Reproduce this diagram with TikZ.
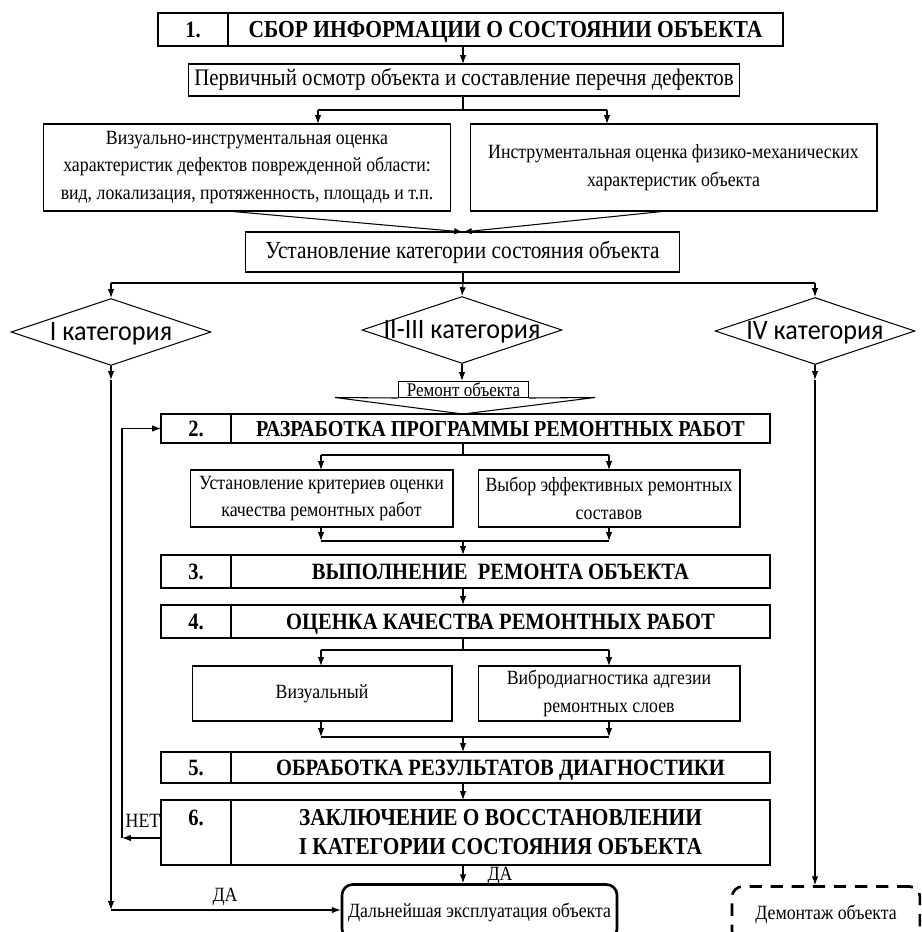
\documentclass[tikz,border=0pt]{standalone}
\usepackage{fontspec}
\setmainfont[FakeStretch=0.88]{Liberation Serif}
\newfontfamily\catfont[FakeStretch=0.93]{Carlito}
\usetikzlibrary{arrows.meta,positioning,shapes.geometric}

\begin{document}
\begin{tikzpicture}[x=0.02cm,y=-0.02cm,
    box/.style={draw,line width=0.6pt,align=center,inner sep=2pt,outer sep=0pt,
        font=\fontsize{11.5}{15.8}\selectfont},
    tallcell/.style={draw,line width=0.7pt,outer sep=0pt,align=center,
        font=\bfseries\fontsize{13.3}{16.5}\selectfont},
    numcell/.style={tallcell,minimum width=1.4cm,text height=9.2pt,text depth=0pt},
    headcell/.style={tallcell,text height=9.2pt,text depth=0pt},
    decision/.style={diamond,draw,line width=0.6pt,inner xsep=-1.4cm,inner ysep=0pt,
        text height=10pt,text depth=0.5pt,
        minimum width=4cm,minimum height=1.34cm,font=\catfont\fontsize{16}{18}\selectfont},
    endbox/.style={draw,rounded corners=6pt,line width=1.5pt,minimum height=1.1cm,
        font=\fontsize{11.5}{12}\selectfont},
    lbl/.style={inner sep=1pt,font=\fontsize{11.5}{12}\selectfont},
    arrow/.style={-{Latex[length=5pt,width=3.6pt]},line width=0.6pt},
    link/.style={line width=0.6pt}]

\useasboundingbox (0,0) rectangle (921,932);
\clip (0,0) rectangle (921,932);

% middle column and forks
\coordinate (mid) at (463,0);
\coordinate (f1l) at (318,110);  \coordinate (f1r) at (607,110);
\coordinate (vx) at (227,211);   \coordinate (ix) at (667,211);
\coordinate (f2l) at (111,283);  \coordinate (f2r) at (815,283);
\coordinate (f3l) at (321,455);  \coordinate (f3r) at (609,455);
\coordinate (j3l) at (321,541);  \coordinate (j3r) at (609,541);
\coordinate (f4l) at (321,650);  \coordinate (f4r) at (609,650);
\coordinate (j4l) at (321,737);  \coordinate (j4r) at (609,737);

% 1
\node[numcell,minimum height=0.66cm] (n1) at (193,29.5) {1.};
\node[headcell,minimum width=11.1cm,minimum height=0.66cm,right=0pt of n1,
    font=\bfseries\fontsize{13.9}{16.5}\selectfont] (s1) {СБОР ИНФОРМАЦИИ О СОСТОЯНИИ ОБЪЕКТА};
\node[box,minimum width=11.04cm,minimum height=0.64cm,font=\fontsize{13.5}{14}\selectfont] (insp) at (464,80) {Первичный осмотр объекта и составление перечня дефектов};
\node[box,minimum width=8.16cm,minimum height=1.74cm] (vis) at (247,167.5) {Визуально-инструментальная оценка\\характеристик дефектов поврежденной области:\\вид, локализация, протяженность, площадь и т.п.};
\node[box,minimum width=8.14cm,minimum height=1.74cm] (inst) at (673.5,167.5) {Инструментальная оценка физико-механических\\характеристик объекта};
\node[box,minimum width=8.7cm,minimum height=0.8cm,font=\fontsize{13.8}{14}\selectfont] (cat) at (462.5,252) {Установление категории состояния объекта};

% categories
\node[decision] (c1) at (111,332) {I категория};
\node[decision] (c23) at (462,330) {II-III категория};
\node[decision] (c4) at (815,331) {IV категория};

\node[draw,line width=0.6pt,minimum width=2.6cm,minimum height=0.32cm,inner sep=0pt,
    font=\fontsize{11}{11}\selectfont] (rem) at (463.5,389.5) {Ремонт объекта};
\coordinate (tip) at (463,414);
\draw[link] (rem.south west) -- (335,397.5) -- (tip) -- (595,397.5) -- (rem.south east);

% 2 - 6
\node[numcell,minimum height=0.58cm] (n2) at (196,428.5) {2.};
\node[headcell,minimum width=10.78cm,minimum height=0.58cm,right=0pt of n2,
    font=\bfseries\fontsize{13}{16.5}\selectfont] (s2) {РАЗРАБОТКА ПРОГРАММЫ РЕМОНТНЫХ РАБОТ};
\node[box,minimum width=5.26cm,minimum height=1.14cm] (crit) at (321.5,498.5) {Установление критериев оценки\\качества ремонтных работ};
\node[box,minimum width=5.24cm,minimum height=1.14cm] (mix) at (609,498.5) {Выбор эффективных ремонтных\\составов};
\node[numcell,minimum height=0.66cm] (n3) at (196,571.5) {3.};
\node[headcell,minimum width=10.78cm,minimum height=0.66cm,right=0pt of n3] (s3) {ВЫПОЛНЕНИЕ\ \ РЕМОНТА ОБЪЕКТА};
\node[numcell,minimum height=0.66cm] (n4) at (196,621.5) {4.};
\node[headcell,minimum width=10.78cm,minimum height=0.66cm,right=0pt of n4] (s4) {ОЦЕНКА КАЧЕСТВА РЕМОНТНЫХ РАБОТ};
\node[box,minimum width=5.2cm,minimum height=1.1cm] (look) at (322,693.5) {Визуальный};
\node[box,minimum width=5.24cm,minimum height=1.1cm] (vib) at (609,693.5) {Вибродиагностика адгезии\\ремонтных слоев};
\node[numcell,minimum height=0.62cm] (n5) at (196,767.5) {5.};
\node[headcell,minimum width=10.78cm,minimum height=0.62cm,right=0pt of n5] (s5) {ОБРАБОТКА РЕЗУЛЬТАТОВ ДИАГНОСТИКИ};
\node[tallcell,minimum width=1.4cm,minimum height=1.3cm] (n6) at (196,832.5) {6.\\\phantom{6.}};
\node[tallcell,minimum width=10.78cm,minimum height=1.3cm,right=0pt of n6,
    font=\bfseries\fontsize{13.8}{16.5}\selectfont] (s6) {ЗАКЛЮЧЕНИЕ О ВОССТАНОВЛЕНИИ\\I КАТЕГОРИИ СОСТОЯНИЯ ОБЪЕКТА};

% outcomes
\node[endbox,minimum width=5.5cm] (expl) at (479.5,912) {Дальнейшая эксплуатация объекта};
\node[endbox,dashed,dash pattern=on 7pt off 5pt,minimum width=3.76cm] (dem) at (826,914) {Демонтаж объекта};
\coordinate (net) at (122,838);
\coordinate (a1) at (111,380);  \coordinate (b1) at (111,910);
\coordinate (a4) at (815,380);
\node[lbl] (no) at (143,821) {НЕТ};
\node[lbl] (yes1) at (225,897) {ДА};
\node[lbl] (yes2) at (500,876) {ДА};

% connectors
\draw[arrow] (s1.south -| mid) -- (insp.north -| mid);
\draw[link] (insp.south -| mid) -- (f1l -| mid);
\draw[link] (f1l) -- (f1r);
\draw[arrow] (f1l) -- (vis.north -| f1l);
\draw[arrow] (f1r) -- (inst.north -| f1r);
\draw[arrow] (vx) -- (cat.north -| mid);
\draw[arrow] (ix) -- (cat.north -| mid);
\draw[link] (cat.south -| mid) -- (f2l -| mid);
\draw[link] (f2l) -- (f2r);
\draw[arrow] (f2l) -- (c1.north);
\draw[arrow] (f2l -| mid) -- (c23.north);
\draw[arrow] (f2r) -- (c4.north);
\draw[arrow] (c1.south) -- (a1);
\draw[arrow] (a1) -- (b1);
\draw[arrow] (b1) -- (expl.west |- b1);
\draw[arrow] (c4.south) -- (a4);
\draw[arrow] (a4) -- (dem.north -| a4);
\draw[arrow] (c23.south) -- (rem.north -| c23.south);

\draw[link] (s2.south -| mid) -- (f3l -| mid);
\draw[link] (f3l) -- (f3r);
\draw[arrow] (f3l) -- (crit.north -| f3l);
\draw[arrow] (f3r) -- (mix.north -| f3r);
\draw[arrow] (crit.south -| j3l) -- (j3l);
\draw[arrow] (mix.south -| j3r) -- (j3r);
\draw[link] (j3l) -- (j3r);
\draw[arrow] (j3l -| mid) -- (s3.north -| mid);
\draw[arrow] (s3.south -| mid) -- (s4.north -| mid);

\draw[link] (s4.south -| mid) -- (f4l -| mid);
\draw[link] (f4l) -- (f4r);
\draw[arrow] (f4l) -- (look.north -| f4l);
\draw[arrow] (f4r) -- (vib.north -| f4r);
\draw[arrow] (look.south -| j4l) -- (j4l);
\draw[arrow] (vib.south -| j4r) -- (j4r);
\draw[link] (j4l) -- (j4r);
\draw[arrow] (j4l -| mid) -- (s5.north -| mid);
\draw[arrow] (s5.south -| mid) -- (s6.north -| mid);
\draw[arrow] (s6.south -| mid) -- (expl.north -| mid);

% back to step 2
\draw[arrow] (n6.west |- net) -- (net);
\draw[arrow] (net) |- (n2.west);
\end{tikzpicture}
\end{document}
